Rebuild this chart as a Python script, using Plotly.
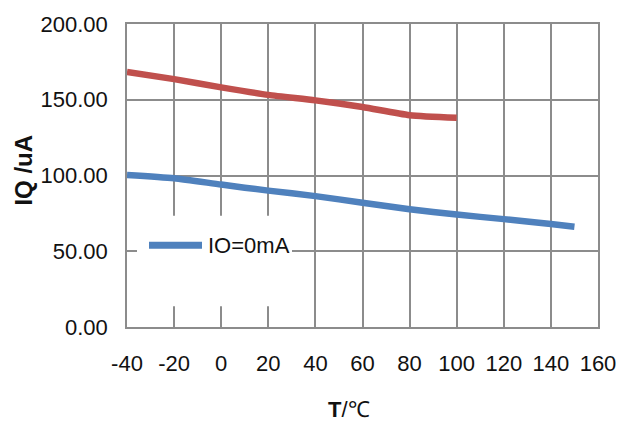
import plotly.graph_objects as go

# Quiescent current vs. temperature
temp_red = [-40, -20, 0, 20, 40, 60, 80, 100]
iq_red = [168.4, 163.6, 158.2, 153.2, 149.6, 145.2, 139.8, 138.1]

temp_blue = [-40, -20, 0, 20, 40, 60, 80, 100, 120, 140, 150]
iq_blue = [100.4, 98.2, 94.0, 90.0, 86.4, 82.0, 77.7, 74.2, 71.2, 68.0, 66.2]
blue_name = "IO=0mA"

x_ticks = [-40, -20, 0, 20, 40, 60, 80, 100, 120, 140, 160]
x_tick_text = ["-40", "-20", "0", "20", "40", "60", "80", "100", "120", "140", "160"]
y_ticks = [0, 50, 100, 150, 200]
y_tick_text = ["0.00", "50.00", "100.00", "150.00", "200.00"]

RED = "#C0504D"
BLUE = "#4F81BD"
GRID = "#8c8c8c"
FONT = "Liberation Sans, Arial, sans-serif"

fig = go.Figure()
fig.add_trace(go.Scatter(x=temp_red, y=iq_red, mode="lines",
                         line=dict(color=RED, width=6.5, shape="spline", smoothing=0.6),
                         showlegend=False))
fig.add_trace(go.Scatter(x=temp_blue, y=iq_blue, mode="lines", name=blue_name,
                         line=dict(color=BLUE, width=6.5, shape="spline", smoothing=0.6),
                         showlegend=False))

W, H = 628, 425
ml, mr, mt, mb = 127, 30, 19, 98
pw, ph = W - ml - mr, H - mt - mb


def px(x):
    return (x - ml) / pw


def py(y):
    return (H - mb - y) / ph


# legend box drawn by hand
fig.add_shape(type="rect", xref="paper", yref="paper",
              x0=px(137), x1=px(292), y0=py(306), y1=py(214),
              fillcolor="white", line=dict(width=0), layer="above")
fig.add_shape(type="line", xref="paper", yref="paper",
              x0=px(149), x1=px(202), y0=py(244), y1=py(244),
              line=dict(color=BLUE, width=7), layer="above")
fig.add_annotation(xref="paper", yref="paper", x=px(206), y=py(244),
                   text=blue_name, showarrow=False, xanchor="left", yanchor="middle",
                   font=dict(family=FONT, size=22, color="#111111"))

# axis titles
fig.add_annotation(xref="paper", yref="paper", x=px(24), y=py(168),
                   text="<b>IQ /uA</b>", textangle=-90, showarrow=False,
                   xanchor="center", yanchor="middle",
                   font=dict(family=FONT, size=24, color="#111111"))
fig.add_annotation(xref="paper", yref="paper", x=px(349), y=py(411),
                   text="<b>T</b>/℃", showarrow=False,
                   xanchor="center", yanchor="middle",
                   font=dict(family=FONT, size=22, color="#111111"))

fig.update_xaxes(range=[-40, 160], tickvals=x_ticks, ticktext=x_tick_text, showgrid=True,
                 gridcolor=GRID, gridwidth=1.5, showline=True, linecolor=GRID, linewidth=1.5,
                 mirror=True, zeroline=False, ticks="", ticklabelstandoff=16,
                 tickfont=dict(family=FONT, size=22, color="#111111"))
fig.update_yaxes(range=[0, 200], tickvals=y_ticks, ticktext=y_tick_text, showgrid=True,
                 gridcolor=GRID, gridwidth=1.5, showline=True, linecolor=GRID, linewidth=1.5,
                 mirror=True, zeroline=False, ticks="", ticklabelstandoff=13,
                 tickfont=dict(family=FONT, size=22, color="#111111"))

fig.update_layout(width=W, height=H, margin=dict(l=ml, r=mr, t=mt, b=mb),
                  plot_bgcolor="white", paper_bgcolor="white", showlegend=False)

fig.write_html("out.html")
